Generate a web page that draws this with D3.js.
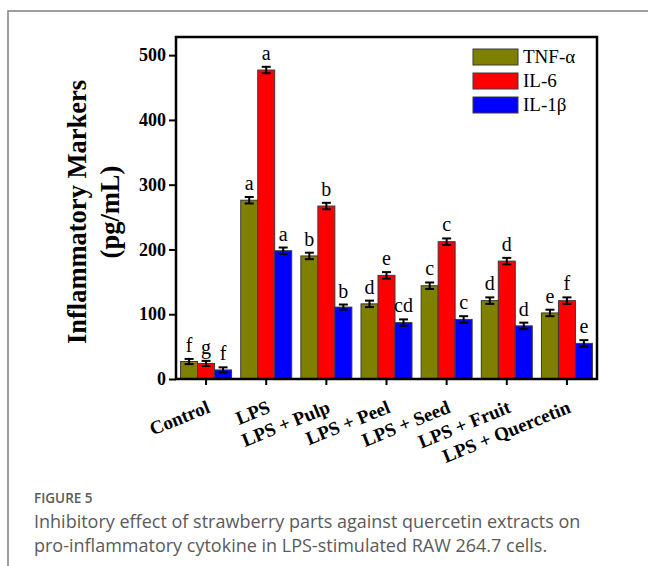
<!DOCTYPE html>
<html>
<head>
<meta charset="utf-8">
<script src="https://cdn.jsdelivr.net/npm/d3@7"></script>
<style>
  body { margin: 0; background: #fff; }
  svg { display: block; }
</style>
</head>
<body>
<div class="chart"></div>
<script>
// groups on the x axis
const groups = ['Control', 'LPS', 'LPS + Pulp', 'LPS + Peel', 'LPS + Seed', 'LPS + Fruit', 'LPS + Quercetin'];
const seriesNames = ['TNF-α', 'IL-6', 'IL-1β'];
const seriesColors = ['#808000', '#ff0000', '#0000ff'];
// values (pg/mL)
const tnfValues = [27, 276, 190, 116, 144, 121, 102];
const il6Values = [24, 477, 267, 160, 212, 182, 121];
const il1Values = [14, 198, 111, 87, 92, 82, 55];
const tnfErr = [4, 5, 5, 5, 5, 5, 5];
const il6Err = [4, 5, 5, 5, 5, 5, 5];
const il1Err = [4, 5, 4, 5, 5, 5, 5];
const tnfLetters = ['f', 'a', 'b', 'd', 'c', 'd', 'e'];
const il6Letters = ['g', 'a', 'b', 'e', 'c', 'd', 'f'];
const il1Letters = ['f', 'a', 'b', 'cd', 'c', 'd', 'e'];
const yTicks = [0, 100, 200, 300, 400, 500];

const width = 648, height = 566;
const pLeft = 176, pRight = 597, pTop = 37, pBottom = 379;
const serif = '"Liberation Serif", "Times New Roman", serif';
const sans = '"Open Sans", "Noto Sans", sans-serif';

let svg = d3.select('.chart')
    .append('svg')
    .attr('width', width)
    .attr('height', height);

// card border
svg.append('path')
    .attr('d', `M8,${height} V11 H${width}`)
    .attr('fill', 'none')
    .attr('stroke', '#7d8088')
    .attr('stroke-width', 1.5);

let x0 = d3.scaleBand()
    .domain(groups)
    .range([pLeft, pRight])
    .padding(0);
let x1 = d3.scaleBand()
    .domain(seriesNames)
    .range([0, x0.bandwidth()])
    .paddingInner(0)
    .paddingOuter(0.27);
let y = d3.scaleLinear()
    .domain([0, 528])
    .range([pBottom, pTop]);

let data = [];
groups.forEach((g, i) => {
    data.push({ g: g, s: seriesNames[0], v: tnfValues[i], e: tnfErr[i], l: tnfLetters[i], c: seriesColors[0] });
    data.push({ g: g, s: seriesNames[1], v: il6Values[i], e: il6Err[i], l: il6Letters[i], c: seriesColors[1] });
    data.push({ g: g, s: seriesNames[2], v: il1Values[i], e: il1Err[i], l: il1Letters[i], c: seriesColors[2] });
});

// bars
svg.append('g')
    .selectAll('rect')
    .data(data)
    .join('rect')
    .attr('x', d => x0(d.g) + x1(d.s))
    .attr('y', d => y(d.v))
    .attr('width', x1.bandwidth())
    .attr('height', d => y(0) - y(d.v))
    .attr('fill', d => d.c)
    .attr('stroke', '#3a3a3a')
    .attr('stroke-width', 1);

// error bars
let eb = svg.append('g')
    .attr('stroke', '#000')
    .attr('stroke-width', 2)
    .selectAll('g')
    .data(data)
    .join('g')
    .attr('transform', d => `translate(${x0(d.g) + x1(d.s) + x1.bandwidth() / 2},0)`);
eb.append('line')
    .attr('y1', d => y(d.v - d.e))
    .attr('y2', d => y(d.v + d.e));
eb.append('line')
    .attr('x1', -4.5).attr('x2', 4.5)
    .attr('y1', d => y(d.v + d.e)).attr('y2', d => y(d.v + d.e));
eb.append('line')
    .attr('x1', -4.5).attr('x2', 4.5)
    .attr('y1', d => y(d.v - d.e)).attr('y2', d => y(d.v - d.e));

// significance letters
svg.append('g')
    .selectAll('text')
    .data(data)
    .join('text')
    .attr('x', d => x0(d.g) + x1(d.s) + x1.bandwidth() / 2)
    .attr('y', d => y(d.v + d.e) - 7)
    .attr('text-anchor', 'middle')
    .attr('font-family', serif)
    .attr('font-size', 20)
    .text(d => d.l);

// axes
let y_Axis = d3.axisLeft(y)
    .tickValues(yTicks)
    .tickSize(7)
    .tickPadding(3)
    .tickSizeOuter(0);
let gy = svg.append('g')
    .attr('transform', `translate(${pLeft},0)`)
    .call(y_Axis);
gy.select('.domain').remove();
gy.selectAll('line').attr('stroke-width', 2);
gy.selectAll('text')
    .attr('font-family', serif)
    .attr('font-weight', 'bold')
    .attr('font-size', 18)
    .attr('fill', '#000');

let x_Axis = d3.axisBottom(x0)
    .tickSize(6)
    .tickSizeOuter(0);
let gx = svg.append('g')
    .attr('transform', `translate(0,${pBottom})`)
    .call(x_Axis);
gx.select('.domain').remove();
gx.selectAll('line').attr('stroke-width', 2);
gx.selectAll('text')
    .attr('font-family', serif)
    .attr('font-weight', 'bold')
    .attr('font-size', 19)
    .attr('fill', '#000')
    .attr('text-anchor', 'end')
    .attr('y', 0)
    .attr('dy', 0)
    .attr('transform', 'translate(5,33) rotate(-22)');

// frame
svg.append('rect')
    .attr('x', pLeft)
    .attr('y', pTop)
    .attr('width', pRight - pLeft)
    .attr('height', pBottom - pTop)
    .attr('fill', 'none')
    .attr('stroke', '#000')
    .attr('stroke-width', 2.5);

// y title
svg.append('text')
    .attr('transform', `translate(86,${(pTop + pBottom) / 2 + 4}) rotate(-90)`)
    .attr('text-anchor', 'middle')
    .attr('font-family', serif)
    .attr('font-weight', 'bold')
    .attr('font-size', 26.5)
    .text('Inflammatory Markers');
svg.append('text')
    .attr('transform', `translate(119,${(pTop + pBottom) / 2 + 4}) rotate(-90)`)
    .attr('text-anchor', 'middle')
    .attr('font-family', serif)
    .attr('font-weight', 'bold')
    .attr('font-size', 26.5)
    .text('(pg/mL)');

// legend
let lg = svg.append('g')
    .selectAll('g')
    .data(seriesNames)
    .join('g')
    .attr('transform', (d, i) => `translate(473,${49 + i * 24})`);
lg.append('rect')
    .attr('width', 45)
    .attr('height', 16)
    .attr('fill', (d, i) => seriesColors[i])
    .attr('stroke', '#3a3a3a')
    .attr('stroke-width', 1);
lg.append('text')
    .attr('x', 50)
    .attr('y', 14)
    .attr('font-family', serif)
    .attr('font-size', 19)
    .text(d => d);

// caption
svg.append('text')
    .attr('x', 34)
    .attr('y', 503)
    .attr('font-family', sans)
    .attr('font-size', 13.5)
    .attr('font-weight', 600)
    .attr('fill', '#5a5a5a')
    .text('FIGURE 5');
svg.append('text')
    .attr('x', 34)
    .attr('y', 528)
    .attr('font-family', sans)
    .attr('font-size', 18)
    .attr('fill', '#5a5a5a')
    .text('Inhibitory effect of strawberry parts against quercetin extracts on');
svg.append('text')
    .attr('x', 34)
    .attr('y', 552)
    .attr('font-family', sans)
    .attr('font-size', 18)
    .attr('fill', '#5a5a5a')
    .text('pro-inflammatory cytokine in LPS-stimulated RAW 264.7 cells.');
</script>
</body>
</html>
